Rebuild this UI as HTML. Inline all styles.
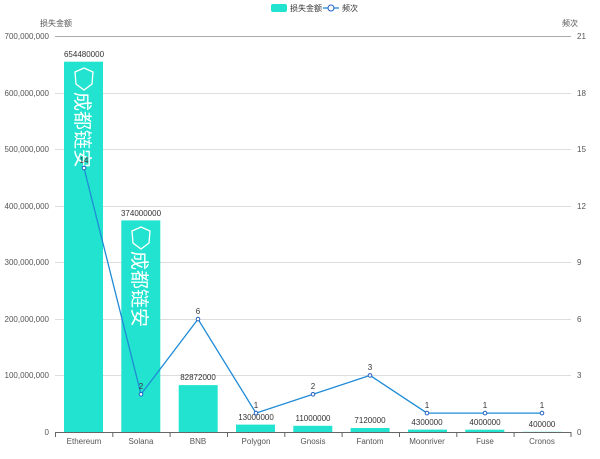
<!DOCTYPE html>
<html><head><meta charset="utf-8"><style>
body{margin:0;background:#fff;width:600px;height:454px;overflow:hidden}
text{font-family:"Liberation Sans","Noto Sans CJK SC",sans-serif}
</style></head><body>
<svg width="600" height="454" xmlns="http://www.w3.org/2000/svg">
<g stroke="#ddd" stroke-width="1">
<line x1="55" y1="36.5" x2="571" y2="36.5" stroke="#aaa"/>
<line x1="55" y1="93.5" x2="571" y2="93.5"/>
<line x1="55" y1="149.5" x2="571" y2="149.5"/>
<line x1="55" y1="206.5" x2="571" y2="206.5"/>
<line x1="55" y1="262.5" x2="571" y2="262.5"/>
<line x1="55" y1="319.5" x2="571" y2="319.5"/>
<line x1="55" y1="375.5" x2="571" y2="375.5"/>
</g>
<line x1="55" y1="432.5" x2="571" y2="432.5" stroke="#666"/>
<g stroke="#666">
<line x1="55.5" y1="432" x2="55.5" y2="437"/><line x1="112.8" y1="432" x2="112.8" y2="437"/><line x1="170.1" y1="432" x2="170.1" y2="437"/><line x1="227.5" y1="432" x2="227.5" y2="437"/><line x1="284.8" y1="432" x2="284.8" y2="437"/><line x1="342.1" y1="432" x2="342.1" y2="437"/><line x1="399.5" y1="432" x2="399.5" y2="437"/><line x1="456.8" y1="432" x2="456.8" y2="437"/><line x1="514.1" y1="432" x2="514.1" y2="437"/><line x1="571" y1="432" x2="571" y2="437"/>
</g>
<g font-size="8" fill="#555" text-anchor="end">
<text x="49" y="39">700,000,000</text><text x="49" y="96">600,000,000</text><text x="49" y="152">500,000,000</text><text x="49" y="209">400,000,000</text><text x="49" y="265">300,000,000</text><text x="49" y="322">200,000,000</text><text x="49" y="378">100,000,000</text><text x="49" y="435">0</text>
</g>
<g font-size="8" fill="#555" text-anchor="start">
<text x="577" y="39">21</text><text x="577" y="96">18</text><text x="577" y="152">15</text><text x="577" y="209">12</text><text x="577" y="265">9</text><text x="577" y="322">6</text><text x="577" y="378">3</text><text x="577" y="435">0</text>
</g>
<text x="40" y="26" font-size="8" fill="#555">损失金额</text>
<text x="562" y="26" font-size="8" fill="#555">频次</text>
<g fill="#22e3cf">
<rect x="64" y="61.7" width="39" height="370.3"/>
<rect x="121.3" y="220.4" width="39" height="211.6"/>
<rect x="178.7" y="385.1" width="39" height="46.9"/>
<rect x="236" y="424.6" width="39" height="7.4"/>
<rect x="293.3" y="425.8" width="39" height="6.2"/>
<rect x="350.6" y="428" width="39" height="4"/>
<rect x="408" y="429.6" width="39" height="2.4"/>
<rect x="465.3" y="429.7" width="39" height="2.3"/>
<rect x="522.6" y="431.8" width="39" height="0.2"/>
</g>
<g fill="none" stroke="#fff" stroke-width="1.3">
<path d="M75,72 L84,68 L93,72 L92,84 L84,90 L76,84 Z"/>
<path d="M132,231 L141,227 L150,231 L149,243 L141,249 L133,243 Z"/>
</g>
<g fill="#fff" font-size="19">
<text transform="translate(76,92) rotate(90)">成都链安</text>
<text transform="translate(133,251) rotate(90)">成都链安</text>
</g>
<g font-size="8" fill="#333" text-anchor="middle">
<text x="84" y="57">654480000</text><text x="141" y="216">374000000</text><text x="198" y="380">82872000</text><text x="256" y="420">13000000</text><text x="313" y="421">11000000</text><text x="370" y="423">7120000</text><text x="427" y="425">4300000</text><text x="485" y="425">4000000</text><text x="542" y="427">400000</text>
</g>
<g font-size="8" fill="#555" text-anchor="middle">
<text x="84" y="444">Ethereum</text><text x="141" y="444">Solana</text><text x="198" y="444">BNB</text><text x="256" y="444">Polygon</text><text x="313" y="444">Gnosis</text><text x="370" y="444">Fantom</text><text x="427" y="444">Moonriver</text><text x="485" y="444">Fuse</text><text x="542" y="444">Cronos</text>
</g>
<polyline fill="none" stroke="#1f8bd6" stroke-width="1.3" points="84,168 141,394.3 198,319.1 256,413.1 313,394.3 370,375.4 427,413.1 485,413.1 542,413.1"/>
<g fill="#fff" stroke="#1f5fbf" stroke-width="1">
<circle cx="84" cy="168" r="1.8"/><circle cx="141" cy="394.3" r="1.8"/><circle cx="198" cy="319.1" r="1.8"/><circle cx="256" cy="413.1" r="1.8"/><circle cx="313" cy="394.3" r="1.8"/><circle cx="370" cy="375.4" r="1.8"/><circle cx="427" cy="413.1" r="1.8"/><circle cx="485" cy="413.1" r="1.8"/><circle cx="542" cy="413.1" r="1.8"/>
</g>
<g font-size="8" fill="#333" text-anchor="middle">
<text x="84" y="163">14</text><text x="141" y="389">2</text><text x="198" y="314">6</text><text x="256" y="408">1</text><text x="313" y="389">2</text><text x="370" y="370">3</text><text x="427" y="408">1</text><text x="485" y="408">1</text><text x="542" y="408">1</text>
</g>
<rect x="271" y="4" width="16" height="8" rx="2" fill="#22e3cf"/>
<text x="290" y="11" font-size="8" fill="#333">损失金额</text>
<line x1="323" y1="8" x2="339" y2="8" stroke="#1f8bd6" stroke-width="1.3"/>
<circle cx="331" cy="8" r="3" fill="#fff" stroke="#1f5fbf"/>
<text x="342" y="11" font-size="8" fill="#333">频次</text>
</svg>
</body></html>
